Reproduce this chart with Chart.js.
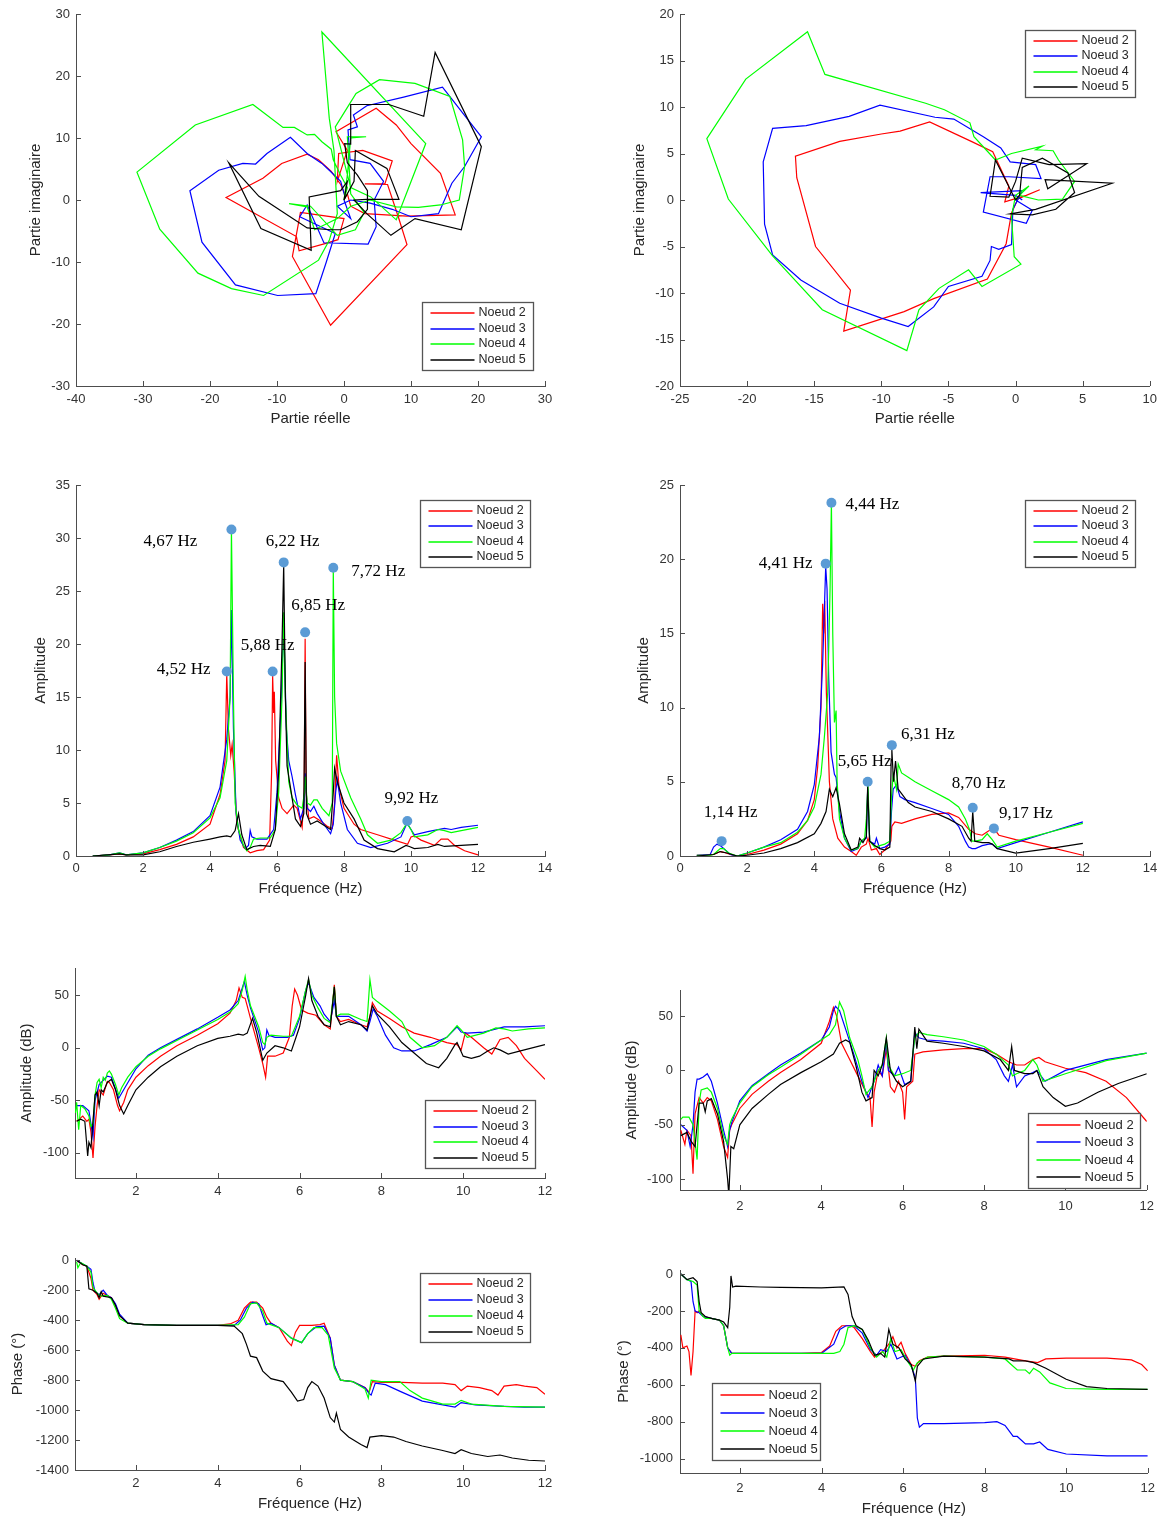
<!DOCTYPE html>
<html>
<head>
<meta charset="utf-8">
<script src="https://cdn.jsdelivr.net/npm/chart.js@4.4.0/dist/chart.umd.min.js"></script>
<style>
  body { margin: 0; background: #fff; width: 1163px; height: 1521px; position: relative; overflow: hidden; }
  canvas { position: absolute; }
</style>
</head>
<body>
<canvas id="c1"></canvas><canvas id="c2"></canvas>
<canvas id="c3"></canvas><canvas id="c4"></canvas>
<canvas id="c5"></canvas><canvas id="c6"></canvas>
<canvas id="c7"></canvas><canvas id="c8"></canvas>
<script>
// 1. DATA
const nodeNames = ['Noeud 2', 'Noeud 3', 'Noeud 4', 'Noeud 5'];

// Nyquist, left test  [real, imag]
const nyqA_n2 = [[0.3,0.5],[-0.5,2.5],[-1.9,4.6],[-2.7,5.4],[-3.8,6.5],[-5.5,7.4],[-9.3,5.9],[-12.1,3.5],[-17.6,0.4],[-7.1,-5.9],[-6.7,-8.2],[-2.7,-7.0],[-0.9,-6.4],[0,-3],[-6.5,-2],[-7.7,-9.1],[-2.0,-20.2],[9.4,-7.2],[8.1,-2.7],[6.5,2.5],[3.1,2.6],[6.1,2.6],[7.2,6.3],[2.8,8.0],[-0.8,7.5],[-1,3],[0.5,8],[-1.2,11.0],[4.8,14.8],[7.8,12.1],[10,9.1],[14.4,4.3],[16.6,-2.4],[9.4,-2.6],[3.1,-2.2],[1,-1],[0.5,1],[0,0]];
const nyqA_n3 = [[0.2,0.3],[-0.5,3],[-2.2,4.8],[-3.3,5.9],[-5.5,7.5],[-8.0,10.1],[-11.5,7.5],[-13.2,5.8],[-15.1,5.9],[-18.7,4.8],[-23,1.5],[-21.2,-6.8],[-16.2,-13.7],[-9.9,-15.4],[-4.2,-15.1],[-2.7,-10.2],[-1.3,-5.4],[-6.6,-2.7],[-5.5,-0.8],[-3.0,-6.9],[3.6,-7.1],[4.8,-4.3],[4.5,0],[5.9,3.0],[3.9,5.9],[0.9,6.5],[0.6,11.3],[2,11.8],[1.4,13.7],[3.4,15.2],[8.9,16.6],[14.7,18.2],[20.5,10.2],[18,5.4],[16.1,2.7],[14.1,-2.2],[10,-2.7],[7.2,-1.5],[3.9,-0.5],[1,0],[-1,-1],[1,-3],[0,0]];
const nyqA_n4 = [[0,0],[0.5,2],[-0.5,4],[-1.6,6.5],[-1.9,8.2],[-3.3,9.4],[-4.4,10.6],[-5.5,10.5],[-7.4,11.7],[-9.1,11.7],[-13.6,15.4],[-22.2,12.1],[-30.9,4.5],[-27.5,-4.7],[-21.8,-11.8],[-16.8,-14.3],[-12,-15.4],[-3.8,-9.7],[-2.2,-6.5],[-1.0,-2.2],[-1.2,2],[-1.5,8],[-2.2,13.2],[-3.3,27.1],[12.2,9.1],[7.8,-3.2],[4,0.5],[1,2],[-1.3,11.8],[0.6,15.1],[1.8,17.2],[5.3,19.4],[10.6,18.8],[15.8,16.7],[17.7,9.7],[18.0,5.4],[17.2,0],[14.4,-0.8],[11.1,-1.2],[7.8,-1.1],[3.9,0],[1,-1],[-1,-3],[-4.4,-4.8],[-5.5,-1.1],[-8.2,-0.6],[-5,-1],[-1,-5.7],[1.7,-4.8],[3,-2],[1,1],[0.5,10.2],[3.3,10.2],[1,10],[0.5,4],[0,0]];
const nyqA_n5 = [[0,0],[0.5,3],[-0.5,1.5],[-5.2,0.5],[-4.9,-8.1],[-12.4,-4.6],[-17.2,6.0],[-12.7,0.6],[-5.5,-4.5],[-2,-4.8],[-0.5,-4.8],[2,-3.5],[3.5,-1.5],[3.5,1.5],[2,4],[0.5,6],[0.1,9.1],[1.0,9.0],[1.0,15.4],[6.7,15.4],[11.9,13.5],[13.6,23.8],[20.5,8.6],[17.5,-4.8],[10.6,-3.0],[7,-5.7],[3.4,-2.2],[1.5,0],[3.4,0.1],[8.2,0.1],[6.4,5.1],[1.7,8.0],[1.5,3],[0,0]];

// Nyquist, right test
const nyqB_n2 = [[0,0],[1.8,1.1],[0.8,0.5],[-0.8,-0.2],[-0.5,1.5],[-1.7,5.2],[-3.3,6.3],[-6.4,8.4],[-8.6,7.4],[-10,7.1],[-13.1,6.3],[-16.4,4.7],[-16.3,2.4],[-14.9,-5.0],[-12.3,-9.7],[-12.8,-14.1],[-8.3,-12.0],[-6.1,-10.6],[-2.1,-8.5],[-0.7,-4.7],[-0.3,-1.4],[0.3,0.5],[0,0]];
const nyqB_n3 = [[0,0],[1.25,-1.1],[0.8,-2.5],[-2.4,-1.3],[-1.9,2.5],[-0.5,2.5],[1.9,2.3],[1.5,3.8],[-0.4,4.1],[-1.1,5.6],[-2.4,6.8],[-4.6,8.7],[-6,8.9],[-10.1,10.2],[-12.4,9.0],[-15.6,8.0],[-18.1,7.7],[-18.8,4.1],[-18.7,-2.6],[-18.1,-5.9],[-16,-8.6],[-13.1,-11.1],[-10,-12.7],[-8,-13.6],[-6.1,-11.5],[-5,-9.3],[-2.5,-8.2],[-1.9,-6.5],[-1.8,-5.0],[-1.25,-5.3],[-0.3,-4.8],[-0.2,-1],[0.5,1],[-2.6,0.8],[0,0.5],[0.5,0]];
const nyqB_n4 = [[0.3,0.5],[1.7,0],[3.5,0.1],[4.4,2.0],[3.2,4.3],[2.8,5.3],[1.5,5.4],[2,5.8],[-0.3,5.0],[-1.5,4.3],[-2.2,5.4],[-3.1,6.8],[-3.4,8.3],[-5.3,9.7],[-6.7,10.4],[-14.2,13.5],[-15.5,18.1],[-20.1,13.0],[-23,6.6],[-21.4,0.1],[-18.1,-6.0],[-14.4,-11.8],[-8.1,-16.2],[-7.2,-11.8],[-5.7,-9.5],[-3.5,-7.5],[-2.5,-9.3],[0.4,-6.9],[-0.1,-6.1],[-0.3,-1.8],[0,0.5],[1,1.5],[0.5,0.8],[0,0]];
const nyqB_n5 = [[0,0],[-1.5,4.3],[-1.9,0.4],[-0.5,0.3],[0,2],[0.5,4.5],[2.5,3.8],[5.3,3.9],[2.4,1.2],[2.2,2.2],[7.2,1.8],[1.5,-1.0],[-0.4,-1.5],[1.25,-1.6],[3.0,-1.0],[4.4,0.8],[3.9,2.9],[2.0,4.5],[0.5,3.5],[0.3,0.5],[0,0]];

// Amplitude, left test  [Hz, amplitude]
const ampA_n2 = [[0.5,0],[1.0,0.1],[1.3,0.2],[1.5,0.1],[2,0.2],[2.5,0.6],[3,1.1],[3.5,1.8],[4,3.0],[4.3,5.8],[4.45,9],[4.5,17.2],[4.55,12],[4.62,9.5],[4.66,10.5],[4.72,8],[4.8,3],[5.0,0.8],[5.2,0.3],[5.4,0.5],[5.6,0.6],[5.78,1.5],[5.84,8],[5.87,17.0],[5.9,13.5],[5.92,15.5],[5.96,9],[6.05,5.5],[6.15,4.5],[6.3,4.0],[6.5,4.8],[6.6,4.5],[6.75,2.7],[6.81,6],[6.84,20.5],[6.87,6],[6.95,3.5],[7.1,3.7],[7.3,3.3],[7.5,2.8],[7.65,2.6],[7.72,5],[7.78,9.5],[7.85,6.5],[8.0,4.5],[8.3,3.0],[8.5,2.5],[9,2.0],[9.5,1.5],[9.9,1.1],[10.0,1.8],[10.1,1.9],[10.3,1.5],[10.7,1.0],[10.9,1.6],[11.1,1.6],[11.3,1.0],[11.6,0.5],[12,0.1]];
const ampA_n3 = [[0.5,0],[1.0,0.1],[1.3,0.3],[1.5,0.1],[2,0.3],[2.5,0.8],[3,1.5],[3.5,2.3],[4,3.8],[4.3,6.5],[4.5,11],[4.6,15],[4.64,23.2],[4.7,12],[4.78,4],[4.9,1.5],[5.05,0.7],[5.15,1.0],[5.2,2.4],[5.25,1.8],[5.4,1.6],[5.7,1.6],[5.9,2.5],[6.0,6],[6.12,14],[6.2,22],[6.28,12],[6.35,9],[6.45,7.5],[6.55,5.8],[6.7,3.5],[6.8,4.5],[6.84,7.8],[6.9,4.5],[7.0,4.2],[7.1,4.7],[7.2,4.0],[7.4,3.0],[7.6,2.1],[7.68,3],[7.75,6],[7.8,7.2],[7.9,5],[8.1,2.5],[8.4,1.2],[8.8,0.8],[9.3,1.2],[9.7,1.8],[9.88,3.1],[10.0,2.5],[10.1,2.0],[10.5,2.3],[11.0,2.6],[11.2,2.5],[11.5,2.7],[12,2.9]];
const ampA_n4 = [[0.5,0],[1.0,0.1],[1.3,0.3],[1.5,0.1],[2,0.3],[2.5,0.8],[3,1.4],[3.5,2.2],[4,3.6],[4.3,5.5],[4.5,9],[4.6,15],[4.64,30.8],[4.7,15],[4.75,5],[4.85,2.5],[5.0,1.0],[5.1,0.5],[5.2,0.8],[5.3,1.6],[5.5,1.7],[5.8,1.7],[5.95,2.5],[6.05,6],[6.15,15],[6.2,23],[6.25,15],[6.35,7],[6.45,5.5],[6.6,4.8],[6.75,4.5],[6.82,6],[6.85,7.5],[6.9,5],[7.0,4.8],[7.1,5.3],[7.2,5.3],[7.35,4.5],[7.55,3.8],[7.65,5],[7.68,27.2],[7.72,15],[7.78,10.6],[7.9,8],[8.2,5.5],[8.5,3.5],[8.7,2],[9,1.2],[9.4,1.5],[9.7,2.2],[9.88,3.1],[10.0,2.5],[10.1,1.8],[10.5,2.0],[10.8,2.5],[11,2.4],[11.2,2.2],[11.5,2.4],[12,2.7]];
const ampA_n5 = [[0.5,0],[1.3,0.2],[1.5,0.1],[2,0.1],[2.5,0.4],[3,0.9],[3.5,1.3],[4,1.6],[4.3,1.8],[4.5,1.9],[4.62,1.8],[4.75,2.4],[4.85,4.0],[4.95,2.0],[5.1,0.6],[5.3,0.9],[5.5,1.0],[5.8,0.9],[5.95,2.5],[6.05,8],[6.15,20],[6.2,27.5],[6.25,15],[6.3,8.5],[6.4,6.5],[6.55,3.5],[6.7,2.8],[6.8,4],[6.84,18.3],[6.88,4],[7.0,3.0],[7.2,3.3],[7.4,2.9],[7.6,2.5],[7.68,6],[7.72,8.3],[7.8,7],[8.0,5],[8.3,3.5],[8.6,1.5],[9,0.7],[9.5,0.4],[9.85,1.0],[9.95,0.9],[10.1,0.7],[10.5,0.8],[10.8,1.1],[11,0.9],[11.5,1.0],[12,1.1]];
const peaksA = [[4.50,17.4],[4.64,30.8],[5.87,17.4],[6.20,27.7],[6.84,21.1],[7.68,27.2],[9.89,3.3]];
const peakTextA = ['4,52 Hz','4,67 Hz','5,88 Hz','6,22 Hz','6,85 Hz','7,72 Hz','9,92 Hz'];

// Amplitude, right test
const ampB_n2 = [[0.5,0.05],[1.0,0.1],[1.1,0.2],[1.2,0.3],[1.3,0.25],[1.5,0.1],[1.7,0.0],[2,0.1],[2.5,0.4],[3,0.8],[3.5,1.5],[3.8,2.4],[4.0,3.8],[4.1,6],[4.2,10],[4.25,17],[4.28,15],[4.31,17.2],[4.36,11],[4.45,5],[4.55,2.5],[4.7,1.2],[4.9,0.6],[5.1,0.3],[5.25,0.05],[5.4,0.6],[5.55,0.8],[5.6,1.2],[5.7,0.4],[5.85,0.5],[5.95,0.1],[6.1,0.4],[6.28,1.0],[6.31,2.0],[6.4,2.3],[6.6,2.2],[7,2.5],[7.5,2.8],[8.0,2.9],[8.3,2.6],[8.6,1.8],[8.8,1.5],[9.0,1.4],[9.2,1.7],[9.35,1.85],[9.5,1.4],[10,1.1],[11,0.6],[12,0.05]];
const ampB_n3 = [[0.5,0.05],[0.9,0.1],[1.0,0.6],[1.1,0.8],[1.2,0.7],[1.35,0.4],[1.5,0.1],[1.7,0.0],[2,0.2],[2.5,0.6],[3,1.1],[3.5,1.8],[3.8,3.0],[4.0,4.8],[4.15,8],[4.25,13],[4.34,19.5],[4.38,18],[4.43,12],[4.5,7],[4.6,5.5],[4.65,5.3],[4.75,3],[4.9,1.2],[5.1,0.3],[5.3,0.5],[5.4,1.0],[5.55,1.2],[5.59,4.5],[5.65,1.0],[5.8,0.8],[5.85,1.2],[5.95,0.5],[6.1,0.6],[6.25,0.8],[6.3,3],[6.35,4.5],[6.45,4.8],[6.55,4.0],[6.7,3.8],[7,3.6],[7.5,3.2],[8,2.8],[8.3,2.0],[8.5,1.0],[8.6,0.6],[8.7,0.5],[8.8,0.5],[9.0,0.7],[9.2,0.8],[9.3,0.8],[9.45,0.5],[10,0.9],[11,1.6],[12,2.3]];
const ampB_n4 = [[0.5,0.05],[0.9,0.05],[1.0,0.1],[1.1,0.3],[1.2,0.5],[1.3,0.5],[1.45,0.2],[1.7,0.0],[2,0.2],[2.5,0.6],[3,0.9],[3.5,1.6],[3.8,2.4],[4.0,3.3],[4.2,5.5],[4.3,8],[4.4,11],[4.47,18],[4.51,23.8],[4.55,15],[4.6,9],[4.65,9.8],[4.68,5],[4.75,2.5],[4.9,1.2],[5.1,0.4],[5.3,0.5],[5.4,1.0],[5.5,1.2],[5.55,2.5],[5.6,4.8],[5.65,1.0],[5.8,0.6],[5.95,0.7],[6.1,0.8],[6.25,1.0],[6.3,4],[6.35,5.5],[6.45,4.5],[6.5,6.2],[6.6,5.6],[6.8,5.3],[7.0,5.0],[7.5,4.4],[8,3.8],[8.3,3.3],[8.5,2.5],[8.62,1.8],[8.7,1.0],[8.8,1.0],[9.0,1.1],[9.15,1.5],[9.3,1.1],[9.45,0.6],[10,1.0],[11,1.6],[12,2.2]];
const ampB_n5 = [[0.5,0.0],[1.0,0.1],[1.2,0.3],[1.4,0.2],[1.7,0.0],[2,0.05],[2.5,0.2],[3,0.5],[3.5,0.9],[4,1.5],[4.2,2.2],[4.35,3.0],[4.45,4.5],[4.55,4.0],[4.65,4.6],[4.75,3.5],[4.9,1.5],[5.1,0.4],[5.3,0.6],[5.35,1.2],[5.45,0.9],[5.55,1.3],[5.59,4.7],[5.65,1.0],[5.8,0.7],[5.95,0.5],[6.1,0.4],[6.25,0.6],[6.29,6.5],[6.31,7.2],[6.36,5],[6.42,6.4],[6.5,4.5],[6.6,4.2],[6.8,3.6],[7,3.3],[7.5,3.0],[8,2.5],[8.4,2.0],[8.6,1.2],[8.67,1.0],[8.72,3.0],[8.78,1.0],[9.0,0.9],[9.2,0.9],[9.3,0.8],[9.45,0.5],[10,0.2],[11,0.5],[12,0.85]];
const peaksB = [[1.24,1.0],[4.51,23.8],[4.34,19.7],[5.59,5.0],[6.31,7.47],[8.72,3.25],[9.35,1.86]];
const peakTextB = ['1,14 Hz','4,44 Hz','4,41 Hz','5,65 Hz','6,31 Hz','8,70 Hz','9,17 Hz'];

// Amplitude in dB, left test
const dbA_n2 = [[0.55,-70],[0.7,-65],[0.8,-70],[0.85,-68],[0.9,-80],[0.95,-105],[1.0,-75],[1.05,-55],[1.1,-40],[1.2,-45],[1.3,-32],[1.35,-33],[1.45,-40],[1.55,-55],[1.6,-60],[1.7,-52],[1.8,-40],[2.0,-28],[2.3,-17],[2.6,-8],[3,2],[3.5,12],[4,23],[4.3,33],[4.45,45],[4.52,57],[4.6,48],[4.67,47],[4.72,40],[4.8,28],[5.0,0],[5.1,-15],[5.17,-28],[5.22,-8],[5.4,-8],[5.6,-5],[5.75,10],[5.82,40],[5.88,56],[5.95,50],[6.05,36],[6.2,33],[6.4,31],[6.6,22],[6.75,18],[6.85,60],[6.9,30],[7.0,25],[7.2,27],[7.5,22],[7.65,20],[7.72,30],[7.78,43],[7.9,35],[8.2,28],[8.5,20],[8.8,14],[9.2,10],[9.6,5],[9.85,3],[9.95,-2],[10.05,14],[10.2,10],[10.5,0],[10.7,-6],[10.9,8],[11.1,10],[11.3,2],[11.5,-10],[11.8,-22],[12,-30]];
const dbA_n3 = [[0.55,-55],[0.7,-55],[0.85,-60],[0.95,-85],[1.0,-50],[1.1,-35],[1.3,-27],[1.4,-28],[1.58,-48],[1.7,-40],[2.0,-20],[2.3,-7],[2.6,0],[3,8],[3.5,18],[4,29],[4.3,36],[4.5,45],[4.65,63],[4.72,50],[4.8,38],[5.0,15],[5.1,-2],[5.15,0],[5.2,17],[5.25,12],[5.4,10],[5.7,10],[5.85,12],[6.0,28],[6.15,55],[6.22,62],[6.35,48],[6.5,40],[6.6,32],[6.75,25],[6.85,45],[6.9,30],[7.0,30],[7.2,30],[7.5,22],[7.65,16],[7.72,25],[7.8,37],[7.9,30],[8.1,12],[8.3,0],[8.5,-3],[8.8,-3],[9.2,3],[9.6,10],[9.85,20],[9.95,15],[10.1,14],[10.5,15],[11,20],[11.5,20],[12,21]];
const dbA_n4 = [[0.52,-62],[0.55,-52],[0.6,-78],[0.65,-55],[0.75,-58],[0.85,-65],[0.9,-75],[0.95,-72],[1.0,-45],[1.05,-33],[1.1,-30],[1.15,-38],[1.2,-28],[1.25,-31],[1.3,-24],[1.35,-22],[1.4,-25],[1.5,-35],[1.58,-45],[1.65,-38],[1.8,-28],[2.0,-18],[2.3,-8],[2.6,-1],[3,7],[3.5,17],[4,27],[4.3,34],[4.5,42],[4.6,55],[4.67,68],[4.72,55],[4.8,40],[5.0,20],[5.1,5],[5.15,3],[5.2,10],[5.3,12],[5.6,11],[5.8,11],[6.0,30],[6.15,55],[6.22,65],[6.3,50],[6.45,38],[6.6,28],[6.75,24],[6.85,58],[6.9,30],[7.0,32],[7.2,32],[7.5,27],[7.65,25],[7.72,65],[7.78,48],[7.9,44],[8.2,35],[8.5,25],[8.7,10],[9.0,0],[9.3,2],[9.6,10],[9.85,21],[9.95,17],[10.1,10],[10.5,14],[10.8,19],[11,18],[11.2,16],[11.6,18],[12,19]];
const dbA_n5 = [[0.55,-70],[0.65,-68],[0.75,-70],[0.82,-103],[0.85,-90],[0.9,-95],[0.95,-70],[1.0,-45],[1.05,-42],[1.1,-55],[1.15,-40],[1.2,-42],[1.3,-33],[1.4,-30],[1.5,-40],[1.6,-55],[1.7,-63],[1.8,-55],[2.0,-40],[2.3,-28],[2.6,-18],[3,-8],[3.5,2],[4,9],[4.3,11],[4.5,13],[4.62,12],[4.72,14],[4.85,28],[4.95,15],[5.1,-12],[5.2,-5],[5.4,2],[5.6,0],[5.8,-3],[6.0,20],[6.15,50],[6.22,66],[6.3,45],[6.45,30],[6.6,22],[6.75,20],[6.85,58],[6.9,30],[7.0,22],[7.2,25],[7.5,22],[7.65,17],[7.72,30],[7.78,40],[7.9,32],[8.2,20],[8.5,5],[8.8,-5],[9.1,-15],[9.4,-19],[9.6,-10],[9.8,3],[9.85,5],[10.0,-8],[10.2,-10],[10.4,-8],[10.6,-3],[10.75,0],[10.9,-2],[11.1,-6],[11.4,-3],[12,3]];

// Amplitude in dB, right test
const dbB_n2 = [[0.55,-55],[0.65,-68],[0.7,-55],[0.8,-60],[0.85,-95],[0.9,-40],[1.0,-25],[1.1,-30],[1.2,-25],[1.3,-28],[1.45,-45],[1.6,-70],[1.7,-80],[1.75,-55],[1.8,-50],[2.0,-35],[2.3,-22],[2.7,-10],[3,-2],[3.5,10],[4.0,25],[4.2,45],[4.3,58],[4.38,50],[4.5,25],[4.7,10],[4.9,-5],[5.1,-20],[5.2,-25],[5.25,-52],[5.3,-20],[5.4,0],[5.5,-5],[5.6,20],[5.7,-15],[5.8,-20],[5.9,-10],[6.0,-20],[6.05,-45],[6.1,-15],[6.25,-10],[6.3,15],[6.5,17],[7,19],[7.5,20],[8.0,20],[8.3,15],[8.6,8],[8.8,5],[9.0,5],[9.2,10],[9.35,12],[9.5,8],[10,2],[10.5,-2],[11,-10],[11.5,-25],[12,-47]];
const dbB_n3 = [[0.55,-50],[0.7,-55],[0.78,-70],[0.85,-50],[0.9,-20],[0.95,-8],[1.0,-8],[1.1,-6],[1.2,-3],[1.3,-10],[1.45,-30],[1.6,-55],[1.7,-70],[1.75,-55],[1.8,-48],[2.0,-28],[2.3,-14],[2.7,-3],[3,5],[3.5,16],[4.0,28],[4.2,40],[4.3,55],[4.35,59],[4.45,55],[4.6,38],[4.8,15],[5.0,-10],[5.15,-25],[5.3,-10],[5.4,5],[5.5,-5],[5.6,28],[5.65,0],[5.8,-5],[5.9,3],[6.05,-13],[6.2,-10],[6.3,35],[6.4,30],[6.6,28],[7,27],[7.5,25],[8.0,20],[8.3,10],[8.5,-5],[8.6,-10],[8.7,5],[8.8,-15],[9.0,-5],[9.2,-2],[9.3,0],[9.5,-10],[10,0],[11,10],[12,16]];
const dbB_n4 = [[0.55,-45],[0.6,-43],[0.75,-43],[0.85,-50],[0.95,-82],[1.0,-30],[1.05,-18],[1.2,-16],[1.3,-20],[1.45,-35],[1.6,-60],[1.7,-68],[1.75,-50],[1.8,-45],[2.0,-30],[2.3,-15],[2.7,-4],[3,3],[3.5,15],[4.0,28],[4.2,33],[4.35,42],[4.45,63],[4.55,55],[4.7,30],[4.9,10],[5.0,-5],[5.1,-22],[5.25,-15],[5.4,0],[5.5,5],[5.6,30],[5.65,5],[5.8,-5],[6.0,-3],[6.2,0],[6.3,30],[6.4,35],[6.6,33],[7,31],[7.5,28],[8.0,22],[8.3,15],[8.6,5],[8.7,-5],[8.8,-3],[9.0,0],[9.2,10],[9.3,5],[9.45,-10],[10,-3],[11,9],[12,16]];
const dbB_n5 = [[0.55,-60],[0.7,-57],[0.8,-65],[0.9,-70],[1.0,-30],[1.1,-30],[1.15,-38],[1.2,-28],[1.3,-26],[1.45,-40],[1.6,-65],[1.7,-100],[1.73,-115],[1.78,-70],[1.85,-72],[2.0,-50],[2.3,-35],[2.7,-22],[3,-13],[3.5,-2],[4.0,8],[4.3,15],[4.45,25],[4.6,28],[4.7,26],[4.85,5],[5.0,-20],[5.1,-28],[5.25,-25],[5.3,0],[5.4,-5],[5.5,5],[5.6,30],[5.7,0],[5.85,-10],[6.0,-15],[6.2,-10],[6.3,40],[6.35,20],[6.4,38],[6.6,27],[7,25],[7.5,22],[8.0,18],[8.4,10],[8.6,0],[8.68,22],[8.75,0],[9.0,-3],[9.2,-3],[9.3,0],[9.45,-15],[9.7,-25],[10,-33],[10.3,-30],[10.8,-20],[11.3,-12],[12,-3]];

// Phase, left test  [Hz, degrees]
const phA_n2 = [[0.55,0],[0.6,-10],[0.7,-30],[0.8,-40],[0.85,-80],[0.9,-120],[0.95,-200],[1.05,-230],[1.1,-260],[1.2,-220],[1.3,-235],[1.4,-250],[1.5,-300],[1.6,-370],[1.8,-420],[2.2,-430],[3,-435],[4,-435],[4.3,-425],[4.5,-400],[4.65,-320],[4.8,-280],[4.95,-280],[5.1,-320],[5.2,-380],[5.3,-420],[5.5,-450],[5.7,-540],[5.8,-570],[5.9,-480],[6.0,-435],[6.3,-435],[6.5,-430],[6.6,-420],[6.75,-520],[6.85,-700],[7.0,-800],[7.3,-810],[7.6,-850],[7.7,-880],[7.78,-810],[8.0,-815],[8.5,-815],[9,-820],[9.5,-820],[9.8,-830],[9.95,-870],[10.1,-840],[10.4,-850],[10.7,-870],[10.85,-900],[11.0,-840],[11.3,-830],[11.5,-840],[11.8,-850],[12,-895]];
const phA_n3 = [[0.55,0],[0.7,-25],[0.8,-40],[0.9,-60],[0.95,-150],[1.0,-210],[1.1,-230],[1.2,-200],[1.3,-235],[1.4,-250],[1.5,-290],[1.6,-360],[1.8,-420],[2.2,-430],[3,-435],[4,-435],[4.4,-435],[4.55,-400],[4.7,-320],[4.85,-280],[5.0,-290],[5.1,-370],[5.18,-430],[5.3,-420],[5.5,-450],[5.8,-520],[6.05,-550],[6.2,-490],[6.4,-445],[6.6,-440],[6.75,-520],[6.85,-700],[7.0,-800],[7.3,-810],[7.6,-850],[7.7,-890],[7.75,-900],[7.85,-820],[8.1,-830],[8.5,-880],[9,-940],[9.5,-965],[9.8,-980],[9.95,-950],[10.3,-965],[11,-975],[11.5,-980],[12,-980]];
const phA_n4 = [[0.55,-10],[0.58,-50],[0.65,-15],[0.8,-40],[0.9,-80],[0.95,-180],[1.05,-220],[1.15,-240],[1.3,-235],[1.4,-260],[1.5,-320],[1.6,-390],[1.8,-420],[2.2,-430],[3,-435],[4,-435],[4.5,-430],[4.65,-380],[4.8,-290],[4.95,-285],[5.1,-340],[5.2,-420],[5.5,-450],[5.8,-520],[6.05,-550],[6.2,-490],[6.35,-450],[6.55,-450],[6.7,-500],[6.85,-720],[7.0,-800],[7.3,-810],[7.6,-860],[7.68,-920],[7.75,-800],[8.0,-810],[8.45,-810],[8.7,-870],[9,-920],[9.5,-960],[9.8,-960],[9.95,-935],[10.2,-960],[11,-975],[12,-980]];
const phA_n5 = [[0.55,0],[0.6,-10],[0.7,-30],[0.8,-40],[0.85,-190],[0.95,-200],[1.05,-220],[1.1,-250],[1.15,-210],[1.2,-240],[1.4,-250],[1.5,-300],[1.6,-370],[1.8,-420],[2.2,-430],[3,-435],[4,-435],[4.4,-440],[4.6,-490],[4.7,-560],[4.8,-640],[4.95,-650],[5.1,-740],[5.3,-790],[5.6,-810],[5.8,-880],[5.95,-940],[6.1,-930],[6.2,-850],[6.3,-810],[6.45,-840],[6.6,-920],[6.75,-1050],[6.85,-1080],[6.9,-1020],[7.0,-1130],[7.2,-1180],[7.5,-1230],[7.65,-1250],[7.72,-1180],[8.0,-1170],[8.3,-1180],[8.6,-1210],[9.0,-1240],[9.5,-1270],[9.8,-1290],[9.95,-1265],[10.2,-1290],[10.6,-1310],[10.9,-1300],[11.2,-1320],[11.6,-1335],[12,-1340]];

// Phase, right test
const phB_n2 = [[0.55,-330],[0.6,-400],[0.7,-390],[0.75,-420],[0.8,-550],[0.85,-420],[0.9,-200],[0.95,-210],[1.0,-200],[1.1,-230],[1.3,-240],[1.5,-250],[1.6,-280],[1.7,-400],[1.8,-430],[2.5,-430],[3.5,-430],[4.0,-425],[4.2,-390],[4.35,-310],[4.5,-280],[4.7,-280],[4.8,-290],[5.0,-350],[5.2,-420],[5.3,-450],[5.5,-420],[5.65,-380],[5.75,-340],[5.85,-400],[5.95,-370],[6.05,-430],[6.2,-490],[6.3,-500],[6.4,-470],[6.6,-450],[7,-445],[8,-440],[8.5,-450],[9,-470],[9.3,-480],[9.5,-460],[10,-455],[11,-455],[11.6,-465],[11.85,-490],[12,-525]];
const phB_n3 = [[0.55,0],[0.7,-30],[0.8,-40],[0.85,-150],[0.9,-200],[1.0,-210],[1.1,-230],[1.3,-240],[1.5,-250],[1.6,-280],[1.7,-400],[1.8,-430],[2.5,-430],[3.5,-430],[4.0,-430],[4.3,-380],[4.45,-300],[4.6,-280],[4.8,-280],[5.0,-320],[5.2,-410],[5.35,-440],[5.45,-410],[5.6,-420],[5.7,-380],[5.85,-460],[6.05,-440],[6.2,-500],[6.3,-560],[6.35,-780],[6.4,-830],[6.5,-810],[7,-810],[8.0,-805],[8.3,-800],[8.5,-820],[8.6,-850],[8.7,-880],[8.8,-880],[9.0,-920],[9.2,-920],[9.35,-910],[9.55,-950],[10,-975],[11,-985],[12,-985]];
const phB_n4 = [[0.55,0],[0.7,-30],[0.85,-40],[0.95,-60],[1.0,-200],[1.1,-230],[1.15,-240],[1.3,-240],[1.5,-250],[1.6,-280],[1.7,-400],[1.75,-440],[1.8,-430],[2.5,-430],[3.5,-430],[4.3,-430],[4.45,-420],[4.55,-380],[4.65,-290],[4.8,-280],[5.0,-300],[5.2,-400],[5.35,-450],[5.5,-420],[5.6,-450],[5.7,-350],[5.8,-420],[5.95,-410],[6.1,-470],[6.25,-520],[6.35,-480],[6.6,-450],[7,-445],[8,-450],[8.5,-460],[8.65,-490],[8.8,-520],[9.0,-520],[9.1,-540],[9.2,-510],[9.35,-530],[9.6,-590],[10,-620],[11,-625],[12,-625]];
const phB_n5 = [[0.55,0],[0.7,-30],[0.85,-20],[0.95,-40],[1.0,-150],[1.05,-210],[1.15,-230],[1.3,-240],[1.5,-250],[1.6,-260],[1.7,-290],[1.75,-180],[1.78,-10],[1.82,-70],[1.9,-65],[2.5,-70],[3,-72],[4,-75],[4.55,-70],[4.65,-110],[4.75,-230],[4.85,-280],[5.0,-300],[5.15,-360],[5.3,-440],[5.45,-430],[5.55,-450],[5.65,-300],[5.75,-380],[5.9,-400],[6.05,-460],[6.2,-490],[6.3,-580],[6.35,-500],[6.5,-460],[7,-445],[8,-450],[8.6,-460],[8.7,-470],[9.0,-470],[9.2,-480],[9.5,-510],[10,-570],[10.5,-610],[11,-620],[12,-625]];

// tick values
const ticksReA = [-40, -30, -20, -10, 0, 10, 20, 30];
const ticksImA = [-30, -20, -10, 0, 10, 20, 30];
const ticksReB = [-25, -20, -15, -10, -5, 0, 5, 10];
const ticksImB = [-20, -15, -10, -5, 0, 5, 10, 15, 20];
const ticksHz14 = [0, 2, 4, 6, 8, 10, 12, 14];
const ticksHz12 = [2, 4, 6, 8, 10, 12];
const ticksAmpA = [0, 5, 10, 15, 20, 25, 30, 35];
const ticksAmpB = [0, 5, 10, 15, 20, 25];
const ticksDb = [-100, -50, 0, 50];
const ticksPhA = [-1400, -1200, -1000, -800, -600, -400, -200, 0];
const ticksPhB = [-1000, -800, -600, -400, -200, 0];

// 2. STYLE
const nodeColors = ['#ff0000', '#0000ff', '#00ff00', '#000000'];
const axisColor = '#4d4d4d';
const textColor = '#333333';
const dotColor = '#5b9bd5';
Chart.defaults.font.family = "'Liberation Sans', Arial, sans-serif";
Chart.defaults.color = textColor;

// label offsets (px, from the dot) for the peak notes
const noteOffA = [[-43,-2],[-61,12],[-5,-26],[9,-21],[13,-27],[45,4],[4,-22]];
const noteOffB = [[9,-29],[41,2],[-40,0],[-3,-20],[36,-11],[6,-24],[32,-15]];

// 3. PLUGINS
const inTicks = {
  id: 'inTicks',
  afterDatasetsDraw(chart) {
    const { ctx, chartArea: a, scales } = chart;
    ctx.save();
    ctx.strokeStyle = axisColor;
    ctx.lineWidth = 1;
    ctx.beginPath();
    scales.x.ticks.forEach(t => {
      const px = Math.round(scales.x.getPixelForValue(t.value)) + 0.5;
      ctx.moveTo(px, a.bottom); ctx.lineTo(px, a.bottom - 5);
    });
    scales.y.ticks.forEach(t => {
      const py = Math.round(scales.y.getPixelForValue(t.value)) + 0.5;
      ctx.moveTo(a.left, py); ctx.lineTo(a.left + 5, py);
    });
    ctx.stroke();
    ctx.restore();
  }
};

const peakNotes = {
  id: 'peakNotes',
  afterDatasetsDraw(chart, args, opts) {
    if (!opts.points) return;
    const { ctx, scales } = chart;
    ctx.save();
    ctx.font = "17px 'Liberation Serif', 'Times New Roman', serif";
    ctx.fillStyle = '#000';
    ctx.textAlign = 'center';
    ctx.textBaseline = 'middle';
    opts.points.forEach((p, i) => {
      const px = scales.x.getPixelForValue(p[0]) + opts.offsets[i][0];
      const py = scales.y.getPixelForValue(p[1]) + opts.offsets[i][1];
      ctx.fillText(opts.texts[i], px, py);
    });
    ctx.restore();
  }
};

const boxLegend = {
  id: 'boxLegend',
  afterDraw(chart, args, o) {
    const { ctx, chartArea: a } = chart;
    const x = Math.round(a.left + o.x) + 0.5, y = Math.round(a.top + o.y) + 0.5;
    ctx.save();
    ctx.fillStyle = '#fff';
    ctx.fillRect(x, y, o.w, o.h);
    ctx.strokeStyle = '#555';
    ctx.lineWidth = 1.3;
    ctx.strokeRect(x, y, o.w, o.h);
    const pad = o.h * 0.15, step = (o.h - 2 * pad) / 3;
    ctx.font = o.size + "px 'Liberation Sans', Arial, sans-serif";
    ctx.textBaseline = 'middle';
    nodeNames.forEach((name, i) => {
      const cy = Math.round(y + pad + i * step);
      ctx.strokeStyle = nodeColors[i];
      ctx.lineWidth = 1.5;
      ctx.beginPath();
      ctx.moveTo(x + 8, cy); ctx.lineTo(x + o.line, cy);
      ctx.stroke();
      ctx.fillStyle = '#262626';
      ctx.fillText(name, x + o.line + 4, cy);
    });
    ctx.restore();
  }
};

// 4. CHART BUILDER
function axis(a, fixedSize, horizontal) {
  return {
    type: 'linear',
    min: a.min, max: a.max,
    border: { display: true, color: axisColor, width: 1 },
    grid: { display: true, drawOnChartArea: false, drawTicks: false },
    ticks: {
      padding: a.tickPad, autoSkip: false, maxRotation: 0,
      font: { size: 13 }, color: textColor,
      callback: v => String(v)
    },
    afterBuildTicks: s => { s.ticks = a.ticks.map(v => ({ value: v })); },
    title: {
      display: !!a.title, text: a.title || '', color: '#262626',
      font: { size: 15 }, padding: horizontal ? { bottom: a.titlePad } : { top: a.titlePad }
    },
    afterFit: s => { if (horizontal) s.height = fixedSize; else s.width = fixedSize; }
  };
}

function makeChart(id, box, area, xa, ya, series, legend, peaks) {
  const cv = document.getElementById(id);
  cv.width = box.w; cv.height = box.h;
  cv.style.left = box.x + 'px'; cv.style.top = box.y + 'px';

  const datasets = series.map((d, i) => ({
    label: nodeNames[i],
    data: d.map(p => ({ x: p[0], y: p[1] })),
    borderColor: nodeColors[i],
    borderWidth: 1.2,
    pointRadius: 0,
    showLine: true,
    tension: 0,
    order: 4 - i
  }));
  if (peaks) {
    datasets.push({
      label: 'pics',
      data: peaks.points.map(p => ({ x: p[0], y: p[1] })),
      showLine: false,
      pointRadius: 5,
      pointBackgroundColor: dotColor,
      pointBorderWidth: 0,
      order: 0
    });
  }

  return new Chart(cv.getContext('2d'), {
    type: 'scatter',
    data: { datasets },
    options: {
      responsive: false,
      animation: false,
      devicePixelRatio: 1,
      layout: { padding: { top: area.t - box.y, right: box.x + box.w - area.r, left: 0, bottom: 0 } },
      scales: {
        x: axis(xa, box.y + box.h - area.b, true),
        y: axis(ya, area.l - box.x, false)
      },
      plugins: {
        legend: { display: false },
        tooltip: { enabled: false },
        boxLegend: legend,
        peakNotes: peaks || {}
      }
    },
    plugins: [inTicks, peakNotes, boxLegend]
  });
}

// 5. THE EIGHT PANELS
makeChart('c1', { x: 0, y: 0, w: 580, h: 450 }, { l: 76, t: 14, r: 545, b: 386 },
  { min: -40, max: 30, ticks: ticksReA, title: 'Partie réelle', titlePad: 22, tickPad: 6 },
  { min: -30, max: 30, ticks: ticksImA, title: 'Partie imaginaire', titlePad: 27, tickPad: 6 },
  [nyqA_n2, nyqA_n3, nyqA_n4, nyqA_n5],
  { x: 346, y: 288, w: 111, h: 68, line: 52, size: 12.5 });

makeChart('c2', { x: 580, y: 0, w: 583, h: 450 }, { l: 680, t: 14, r: 1150, b: 386 },
  { min: -25, max: 10, ticks: ticksReB, title: 'Partie réelle', titlePad: 22, tickPad: 6 },
  { min: -20, max: 20, ticks: ticksImB, title: 'Partie imaginaire', titlePad: 51, tickPad: 6 },
  [nyqB_n2, nyqB_n3, nyqB_n4, nyqB_n5],
  { x: 345, y: 16, w: 110, h: 67, line: 52, size: 12.5 });

makeChart('c3', { x: 0, y: 460, w: 580, h: 450 }, { l: 76, t: 485, r: 545, b: 856 },
  { min: 0, max: 14, ticks: ticksHz14, title: 'Fréquence (Hz)', titlePad: 12, tickPad: 5 },
  { min: 0, max: 35, ticks: ticksAmpA, title: 'Amplitude', titlePad: 32, tickPad: 6 },
  [ampA_n2, ampA_n3, ampA_n4, ampA_n5],
  { x: 344, y: 15, w: 110, h: 67, line: 52, size: 12.5 },
  { points: peaksA, texts: peakTextA, offsets: noteOffA });

makeChart('c4', { x: 580, y: 460, w: 583, h: 450 }, { l: 680, t: 485, r: 1150, b: 856 },
  { min: 0, max: 14, ticks: ticksHz14, title: 'Fréquence (Hz)', titlePad: 12, tickPad: 5 },
  { min: 0, max: 25, ticks: ticksAmpB, title: 'Amplitude', titlePad: 55, tickPad: 6 },
  [ampB_n2, ampB_n3, ampB_n4, ampB_n5],
  { x: 345, y: 15, w: 110, h: 67, line: 52, size: 12.5 },
  { points: peaksB, texts: peakTextB, offsets: noteOffB });

makeChart('c5', { x: 0, y: 940, w: 580, h: 270 }, { l: 75, t: 968, r: 545, b: 1178 },
  { min: 0.51, max: 12, ticks: ticksHz12, tickPad: 6 },
  { min: -124, max: 76, ticks: ticksDb, title: 'Amplitude (dB)', titlePad: 18, tickPad: 6 },
  [dbA_n2, dbA_n3, dbA_n4, dbA_n5],
  { x: 350, y: 132, w: 110, h: 68, line: 52, size: 12.5 });

makeChart('c6', { x: 580, y: 960, w: 583, h: 270 }, { l: 680, t: 990, r: 1150, b: 1190 },
  { min: 0.53, max: 12, ticks: ticksHz12, tickPad: 9 },
  { min: -110, max: 74, ticks: ticksDb, title: 'Amplitude (dB)', titlePad: 43, tickPad: 7 },
  [dbB_n2, dbB_n3, dbB_n4, dbB_n5],
  { x: 348, y: 123, w: 112, h: 75, line: 52, size: 13 });

makeChart('c7', { x: 0, y: 1235, w: 580, h: 286 }, { l: 75, t: 1258, r: 545, b: 1470 },
  { min: 0.51, max: 12, ticks: ticksHz12, title: 'Fréquence (Hz)', titlePad: 8, tickPad: 6 },
  { min: -1400, max: 15, ticks: ticksPhA, title: 'Phase (°)', titlePad: 9, tickPad: 6 },
  [phA_n2, phA_n3, phA_n4, phA_n5],
  { x: 345, y: 15, w: 110, h: 69, line: 52, size: 12.5 });

makeChart('c8', { x: 580, y: 1240, w: 583, h: 281 }, { l: 680, t: 1270, r: 1150, b: 1473 },
  { min: 0.53, max: 12, ticks: ticksHz12, title: 'Fréquence (Hz)', titlePad: 3, tickPad: 8 },
  { min: -1078, max: 22, ticks: ticksPhB, title: 'Phase (°)', titlePad: 35, tickPad: 7 },
  [phB_n2, phB_n3, phB_n4, phB_n5],
  { x: 32, y: 113, w: 108, h: 77, line: 52, size: 13 });
</script>
</body>
</html>
